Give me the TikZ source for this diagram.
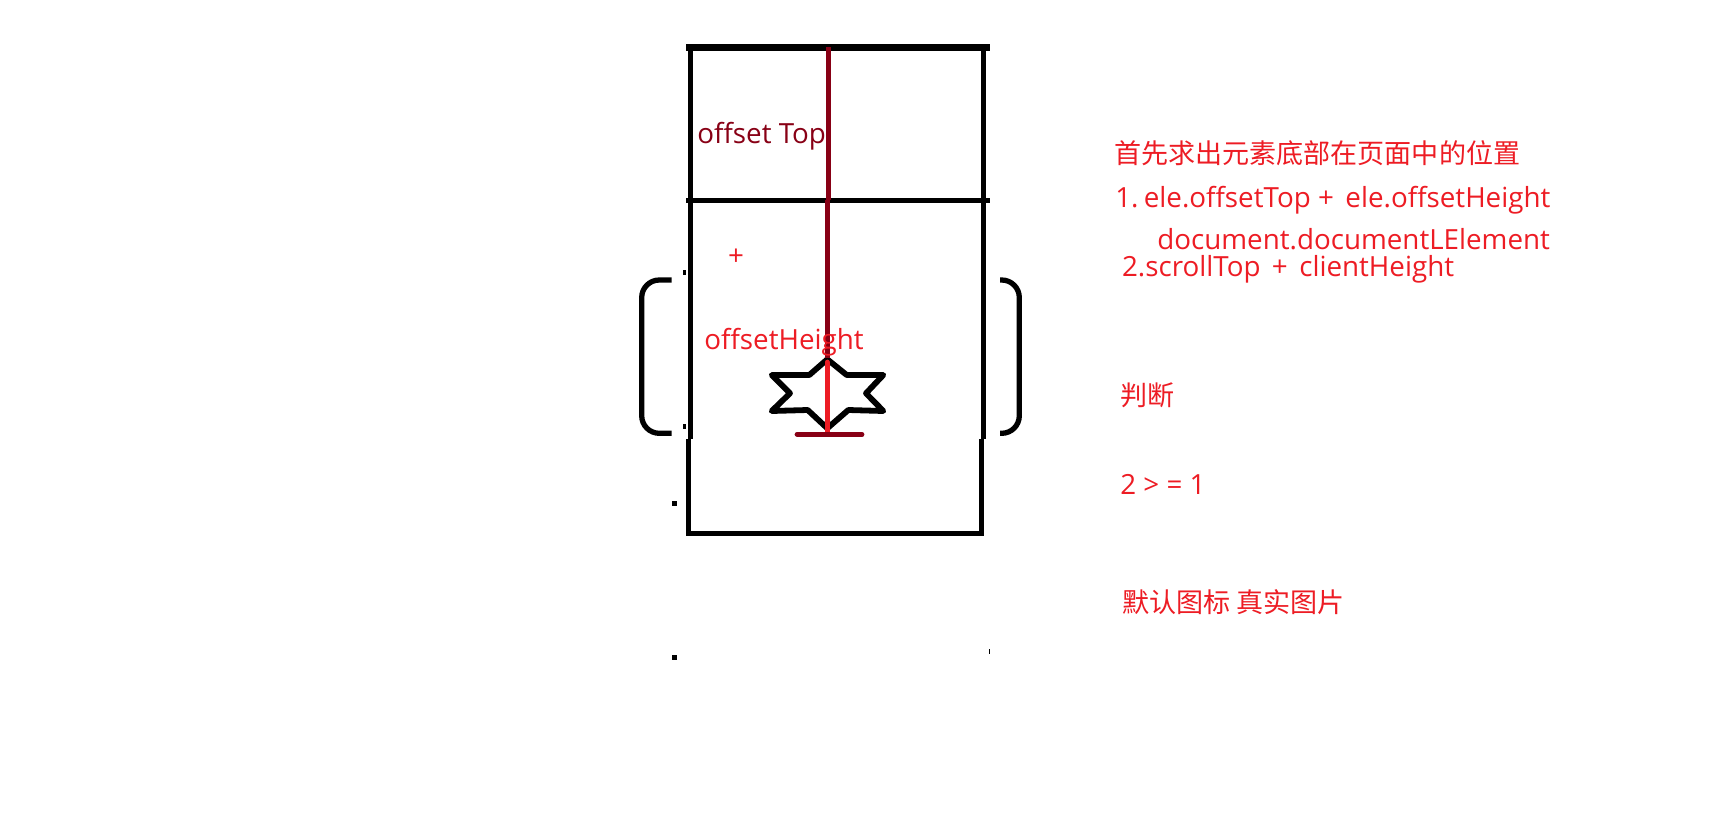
\documentclass[tikz,border=0pt]{standalone}
\usepackage{fontspec}
\setmainfont{Open Sans}
\newfontfamily\cjk{Noto Sans CJK SC}
\definecolor{paintred}{HTML}{ED1C24}
\definecolor{paintdark}{HTML}{880015}
\tikzset{
    wall/.style={draw=black, line width=3pt},
    heavy/.style={draw=black, line width=3.7pt},
    darkline/.style={draw=paintdark, line width=2.7pt},
    redline/.style={draw=paintred, line width=2.7pt, line cap=round},
    speck/.style={fill=black},
    redlabel/.style={anchor=base west, inner sep=0pt, text=paintred, font=\fontsize{15.8pt}{19pt}\selectfont},
    cjklabel/.style={anchor=base west, inner sep=0pt, text=paintred, font=\cjk\fontsize{15.4pt}{19pt}\selectfont},
}
\begin{document}
\begin{tikzpicture}[x=0.02cm, y=-0.02cm]
    \useasboundingbox (0,0) rectangle (1713,825);

    % Upper frame
    \draw[wall] (690.3,47) -- (690.3,438.7);
    \draw[wall] (983.3,47) -- (983.3,438.7);
    \draw[heavy] (686,47.3) -- (990,47.3);
    \draw[wall] (686,200.3) -- (990,200.3);

    % Lower frame
    \draw[wall] (688.7,438.7) -- (688.7,533.3) -- (981.7,533.3) -- (981.7,438.7);

    % Brackets
    \draw[wall, rounded corners=10pt] (671.7,280) -- (641.7,280) -- (641.7,433.3) -- (671.7,433.3);
    \draw[wall, rounded corners=10pt] (1000,280) -- (1019.3,280) -- (1019.3,433.3) -- (1000,433.3);

    % Star
    \draw[wall, line width=3.3pt, line join=round] (827.3,359.3) -- (846.7,375) -- (883.3,375) -- (866,393.3)
        -- (883.3,411) -- (848.3,410) -- (827.3,428.3) -- (807.7,410) -- (771.7,411)
        -- (790,393.3) -- (771.7,375) -- (809.3,375) -- cycle;

    % Measures
    \draw[darkline] (828.3,47) -- (828.3,200);
    \draw[darkline] (827.3,200) -- (827.3,358);
    \draw[redline] (827.3,362) -- (827.3,434);
    \draw[darkline, line cap=round] (797,434.3) -- (862,434.3);

    % Specks
    \fill[speck] (682.8,270) rectangle (685.8,275);
    \fill[speck] (682.8,424) rectangle (685.8,429);
    \fill[speck] (672,501) rectangle (677,506);
    \fill[speck] (672,655) rectangle (677,660);
    \fill[speck] (989,649) rectangle (990,654);

    % Labels
    \node[redlabel, text=paintdark] (offsettop) at (697,143.7) {offset Top};
    \node[redlabel, anchor=center] (plus) at (736,257) {+};
    \node[redlabel] (offsetheight) at (704,349.3) {offsetHeight};
    \node[cjklabel] (title) at (1114,163.5) {首先求出元素底部在页面中的位置};
    \node[redlabel] (stepone) at (1115,207.7) {1.\hspace{-2.5pt} ele.offsetTop +\hspace{2.5pt} ele.offsetHeight};
    \node[redlabel] (docel) at (1157,249) {document.documentLElement};
    \node[redlabel] (steptwo) at (1121.7,276) {2.scrollTop\hspace{2.4pt} +\hspace{2.4pt} clientHeight};
    \node[cjklabel] (judge) at (1119.7,405) {判断};
    \node[redlabel] (compare) at (1120,494) {2 > = 1};
    \node[cjklabel] (icons) at (1122,612) {默认图标 真实图片};
\end{tikzpicture}
\end{document}
